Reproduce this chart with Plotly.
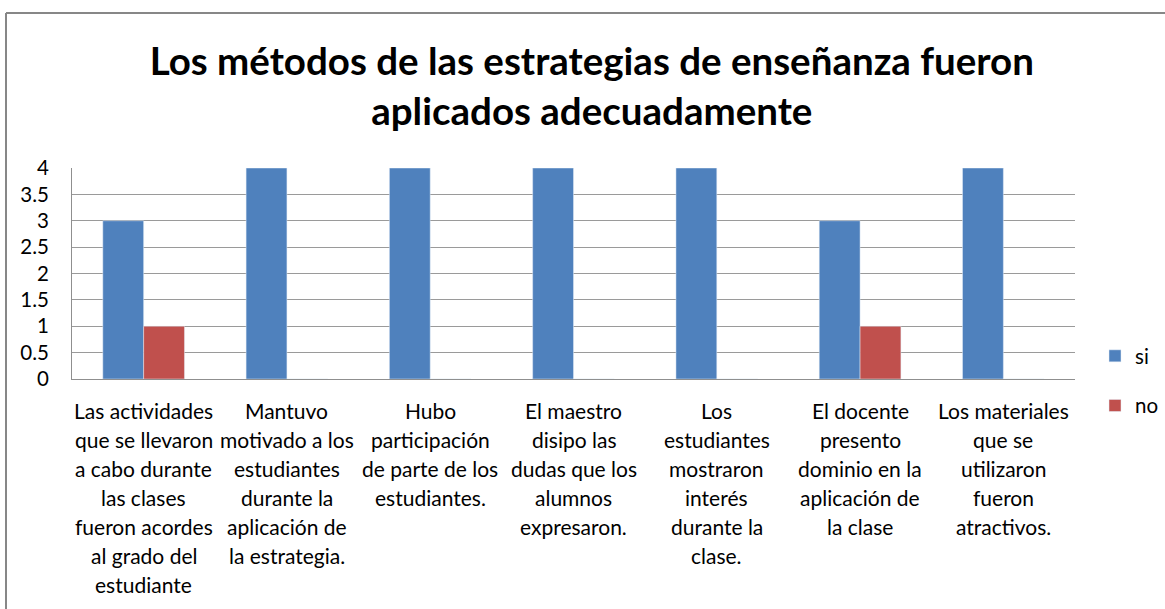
import plotly.graph_objects as go

categories = [
    "Las actividades<br>que se llevaron<br>a cabo durante<br>las clases<br>fueron acordes<br>al grado del<br>estudiante",
    "Mantuvo<br>motivado a los<br>estudiantes<br>durante la<br>aplicación de<br>la estrategia.",
    "Hubo<br>participación<br>de parte de los<br>estudiantes.",
    "El maestro<br>disipo las<br>dudas que los<br>alumnos<br>expresaron.",
    "Los<br>estudiantes<br>mostraron<br>interés<br>durante la<br>clase.",
    "El docente<br>presento<br>dominio en la<br>aplicación de<br>la clase",
    "Los materiales<br>que se<br>utilizaron<br>fueron<br>atractivos.",
]
si_values = [3, 4, 4, 4, 4, 3, 4]
no_values = [1, 0, 0, 0, 0, 1, 0]
y_ticks = [0, 0.5, 1, 1.5, 2, 2.5, 3, 3.5, 4]
y_tick_labels = ["0", "0.5", "1", "1.5", "2", "2.5", "3", "3.5", "4"]

FONT = "Lato"
W, H = 1165, 609
ML, MR, MT, MB = 72, 90, 168, 230
PW, PH = W - ML - MR, H - MT - MB

def px_x(px):
    return (px - ML) / PW

def px_y(py):
    return (H - MB - py) / PH

fig = go.Figure()
fig.add_trace(go.Bar(x=categories, y=si_values, name="si", marker_color="#4F81BD",
                     legendgroup="si"))
fig.add_trace(go.Bar(x=categories, y=no_values, name="no", marker_color="#C0504D",
                     legendgroup="no"))

annotations = []
for cat in categories:
    for i, line in enumerate(cat.split("<br>")):
        annotations.append(dict(
            x=cat, xref="x", y=0, yref="paper", text=line, showarrow=False,
            yanchor="middle", xanchor="center", yshift=-31 - 29 * i,
            font=dict(family=FONT, size=21, color="#000000"),
        ))

fig.update_layout(
    width=W, height=H, autosize=False,
    margin=dict(l=ML, r=MR, t=MT, b=MB, autoexpand=False),
    paper_bgcolor="white", plot_bgcolor="white",
    barmode="group", bargap=0.43, bargroupgap=0,
    title=dict(
        text="Los métodos de las estrategias de enseñanza fueron<br>aplicados adecuadamente",
        x=0.508, xanchor="center", y=1 - 75 / H, yanchor="middle", yref="container",
        font=dict(family=FONT, size=38.5, color="#000000", weight="bold"),
    ),
    font=dict(family=FONT, size=20.5, color="#000000"),
    xaxis=dict(showticklabels=False, showline=True, linecolor="#8f8f8f", linewidth=1,
               showgrid=False, ticks=""),
    yaxis=dict(range=[0, 4], tickvals=y_ticks, ticktext=y_tick_labels,
               showgrid=True, gridcolor="#9a9a9a", gridwidth=1,
               showline=True, linecolor="#8f8f8f", linewidth=1,
               zeroline=False, ticks="", ticklabelstandoff=18,
               tickfont=dict(family=FONT, size=20.5, color="#000000")),
    legend=dict(x=px_x(1095), y=px_y(336), xanchor="left", yanchor="top",
                traceorder="grouped", tracegroupgap=20,
                font=dict(family=FONT, size=20.5, color="#000000"),
                itemwidth=30, bgcolor="rgba(0,0,0,0)"),
    annotations=annotations,
    shapes=[
        dict(type="line", xref="paper", yref="paper", x0=px_x(6), x1=px_x(1200),
             y0=px_y(13), y1=px_y(13), line=dict(color="#878787", width=2)),
        dict(type="line", xref="paper", yref="paper", x0=px_x(6), x1=px_x(6),
             y0=px_y(13), y1=px_y(650), line=dict(color="#878787", width=2)),
    ],
)

fig.write_html(
    "out.html",
    config={"responsive": False, "displayModeBar": False},
    post_script="document.body.style.margin='0';document.body.style.overflow='hidden';",
)
